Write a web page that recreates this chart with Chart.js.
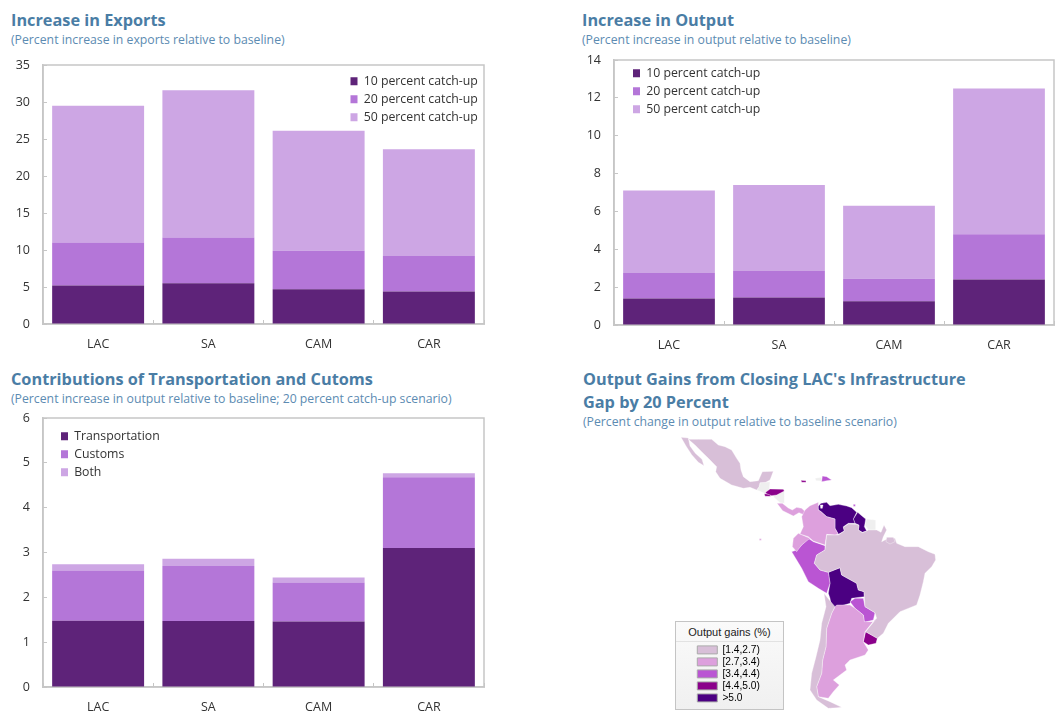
<!DOCTYPE html>
<html><head><meta charset="utf-8">
<script src="https://cdn.jsdelivr.net/npm/chart.js@4"></script>
<style>
html,body{margin:0;padding:0;background:#fff;width:1061px;height:713px;overflow:hidden}
.t{position:absolute;font-family:"Open Sans",sans-serif;white-space:nowrap}
.h{font-weight:700;font-size:16.3px;color:#4A7DA5;line-height:22px}
.s{font-size:12.25px;color:#5C8BB2;line-height:16px}
.c{position:absolute}
#c4{filter:blur(0.35px)}
#mapbox{position:absolute;left:675px;top:621px;width:107px;height:87px;border:1.5px solid #c4c4c4;background:linear-gradient(#fafafa,#f0f0f0);box-sizing:content-box}
#maptitle{position:absolute;left:0;right:0;top:3px;text-align:center;font:11px "Liberation Sans",sans-serif;color:#222;line-height:14px;padding-bottom:2px;border-bottom:1px solid #e2e2e2}
</style></head><body>
<div class="t h" style="left:11px;top:9px">Increase in Exports</div>
<div class="t s" style="left:11px;top:32px">(Percent increase in exports relative to baseline)</div>
<div class="t h" style="left:582px;top:9px">Increase in Output</div>
<div class="t s" style="left:582px;top:32px">(Percent increase in output relative to baseline)</div>
<div class="t h" style="left:11px;top:368px">Contributions of Transportation and Cutoms</div>
<div class="t s" style="left:11px;top:391px">(Percent increase in output relative to baseline; 20 percent catch-up scenario)</div>
<div class="t h" style="left:583px;top:368px">Output Gains from Closing LAC's Infrastructure</div>
<div class="t h" style="left:583px;top:391px">Gap by 20 Percent</div>
<div class="t s" style="left:583px;top:414px">(Percent change in output relative to baseline scenario)</div>
<div id="mapbox"><div id="maptitle">Output gains (%)</div></div>
<canvas class="c" id="c1"></canvas>
<canvas class="c" id="c2"></canvas>
<canvas class="c" id="c3"></canvas>
<canvas class="c" id="c4"></canvas>
<script>
// ---- bar chart data ----
const regions = ['LAC','SA','CAM','CAR'];
const exports10 = [5.2,5.5,4.7,4.4];
const exports20 = [5.8,6.2,5.2,4.8];
const exports50 = [18.5,19.9,16.2,14.4];
const output10 = [1.4,1.45,1.25,2.4];
const output20 = [1.35,1.4,1.2,2.4];
const output50 = [4.35,4.55,3.85,7.7];
const transport = [1.48,1.47,1.46,3.1];
const customs = [1.12,1.23,0.87,1.58];
const both = [0.14,0.16,0.11,0.09];
const catchupNames = ['10 percent catch-up','20 percent catch-up','50 percent catch-up'];
const contribNames = ['Transportation','Customs','Both'];
const barColors = ['#5E2379','#B476D8','#CDA6E4'];

// ---- map data: country outlines in map units ----
const mexico = [[85,28],[115,28],[155,28],[175,45],[195,50],[215,60],[230,85],[240,100],[243,120],[250,140],[270,155],[295,152],[307,125],[340,124],[330,150],[317,157],[300,158],[297,170],[290,180],[270,172],[250,175],[215,165],[180,145],[167,125],[170,110],[145,85],[125,65],[105,45]];
const baja = [[63,22],[85,24],[90,48],[106,70],[126,88],[132,107],[115,97],[95,74],[78,48]];
const guatemalaBelize = [[300,158],[330,155],[328,178],[315,190],[290,180],[297,170]];
const nicaragua = [[345,195],[373,183],[373,220],[360,218],[340,200]];
const honduras = [[317,187],[330,177],[370,178],[373,183],[350,195],[335,197],[317,190]];
const elSalvador = [[313,191],[330,193],[332,199],[315,199]];
const costaRicaPanama = [[351,220],[367,220],[385,234],[397,240],[410,232],[425,235],[437,246],[431,254],[417,248],[400,258],[388,252],[368,242]];
const dominican = [[487,138],[500,140],[515,150],[500,152],[485,155]];
const haiti = [[465,145],[485,142],[485,153],[468,152]];
const jamaica = [[423,151],[438,152],[438,157],[425,157]];
const trinidad = [[580,223],[586,223],[586,229],[580,229]];
const galapagos = [[298,326],[304,326],[304,331],[298,331]];
const venezuela = [[473,230],[483,220],[500,217],[510,227],[535,223],[560,228],[575,233],[590,247],[580,267],[585,280],[565,280],[550,290],[553,303],[535,313],[525,295],[525,267],[500,260],[483,245],[475,240]];
const maracaibo = [[481,225],[489,225],[487,235],[482,235]];
const guyana = [[593,247],[605,257],[617,267],[615,280],[613,290],[620,303],[607,307],[595,300],[597,285],[585,280],[580,267]];
const suriname = [[620,267],[647,270],[647,300],[625,300],[615,285]];
const brazil = [[500,315],[525,315],[535,315],[553,303],[550,292],[565,282],[590,283],[597,287],[595,300],[607,308],[620,303],[625,300],[650,300],[663,307],[672,285],[680,300],[670,320],[665,335],[685,325],[705,325],[710,340],[735,350],[775,350],[805,365],[825,373],[827,390],[815,410],[795,430],[790,455],[780,495],[770,525],[720,545],[685,580],[670,610],[652,625],[617,605],[650,565],[645,548],[615,530],[613,500],[612,485],[595,480],[590,460],[545,435],[540,413],[505,427],[480,420],[463,400],[470,375],[495,360]];
const marajo = [[680,322],[700,322],[705,335],[690,342],[678,335]];
const bolivia = [[505,427],[540,413],[545,435],[590,460],[595,480],[612,485],[613,500],[575,505],[570,520],[535,530],[515,533],[510,505],[505,490],[510,460]];
const peru = [[395,365],[410,360],[425,345],[445,325],[460,335],[495,347],[495,360],[470,375],[463,400],[480,420],[505,427],[510,460],[500,490],[475,475],[445,455],[425,415],[410,390]];
const ecuador = [[400,325],[415,310],[450,325],[425,345],[410,365],[397,350]];
const colombia = [[425,260],[435,240],[450,227],[475,217],[475,240],[483,245],[500,260],[525,267],[525,295],[535,313],[525,315],[500,313],[495,345],[460,333],[445,320],[420,312],[430,290]];
const chile = [[492,490],[508,510],[525,530],[515,550],[500,595],[498,650],[488,690],[485,730],[470,770],[475,800],[510,815],[545,832],[505,835],[470,810],[450,780],[455,730],[468,680],[480,630],[485,580],[498,530]];
const argentina = [[525,530],[530,525],[560,525],[570,525],[585,535],[610,555],[613,575],[645,575],[650,565],[635,580],[615,605],[610,635],[625,660],[615,675],[570,690],[555,705],[560,720],[520,750],[538,765],[520,785],[505,805],[475,800],[470,770],[485,730],[488,690],[498,650],[500,595],[515,550]];
const fuego = [[505,820],[530,828],[540,832],[510,835]];
const paraguay = [[570,515],[585,505],[610,505],[615,530],[645,548],[640,570],[613,577],[610,555],[585,535]];
const uruguay = [[617,605],[652,625],[648,640],[625,645],[610,635]];
const classNames = ['[1.4,2.7)','[2.7,3.4)','[3.4,4.4)','[4.4,5.0)','>5.0'];
const classColors = ['#D8BFD8','#DDA0DD','#BA55D3','#8B008B','#4B0082'];
const noData = '#EFEFEF';
const countries = [
 [maracaibo,'#FFFFFF'],[marajo,0],
 [mexico,0],[baja,0],[brazil,0],[chile,0],
 [colombia,1],[ecuador,1],[argentina,1],[fuego,1],[costaRicaPanama,1],[galapagos,1],
 [peru,2],[paraguay,2],[dominican,2],[trinidad,2],
 [honduras,3],[elSalvador,3],[jamaica,3],[uruguay,3],
 [venezuela,4],[guyana,4],[bolivia,4],
 [guatemalaBelize,noData],[nicaragua,noData],[suriname,noData],[haiti,noData]
];

const FONT = '"Open Sans",sans-serif';
const GREY = '#C6C6C6';

const placeLegend = {
  id:'placeLegend',
  afterLayout(chart){
    const p = chart.options.plugins.placeLegend, l = chart.legend;
    if(!p || !l) return;
    const w = l.width, h = l.height;
    l.left = p.x; l.top = p.y; l.right = p.x + w; l.bottom = p.y + h;
  }
};
const plotFrame = {
  id:'plotFrame',
  beforeDatasetsDraw(chart){
    if(!chart.options.plugins.plotFrame.on) return;
    const a = chart.chartArea, c = chart.ctx;
    c.save(); c.strokeStyle = GREY; c.lineWidth = 1.5;
    c.strokeRect(a.left,a.top,a.right-a.left,a.bottom-a.top);
    c.restore();
  }
};
function noPad(s){s.paddingTop=0;s.paddingBottom=0;s.paddingLeft=0;s.paddingRight=0;}

function barChart(id,L,R,T,B,names,series,yMax,step,lx,ly){
  const cv = document.getElementById(id);
  const padL=40,padT=12,padR=8,padB=32;
  const box = {x:L-padL,y:T-padT,w:R-L+padL+padR,h:B-T+padT+padB};
  cv.style.left = box.x+'px'; cv.style.top = box.y+'px';
  cv.width = box.w; cv.height = box.h;
  cv.style.width = box.w+'px'; cv.style.height = box.h+'px';
  new Chart(cv,{
    type:'bar',
    data:{labels:regions,datasets:series.map((d,i)=>({label:names[i],data:d,backgroundColor:barColors[i],borderWidth:0,
      categoryPercentage:1,barPercentage:0.834}))},
    options:{
      responsive:false,animation:false,
      layout:{padding:{top:padT,right:padR,left:0,bottom:0}},
      scales:{
        x:{stacked:true,offset:true,
           grid:{offset:true,drawOnChartArea:false,drawTicks:true,tickLength:-4,color:GREY,lineWidth:1},
           border:{color:GREY,width:1.5},
           ticks:{padding:17,color:'#333',font:{family:FONT,size:12.5},maxRotation:0},
           afterFit(s){s.height=padB;noPad(s);}},
        y:{stacked:true,min:0,max:yMax,
           grid:{drawOnChartArea:false,drawTicks:true,tickLength:-4,color:GREY,lineWidth:1},
           border:{color:GREY,width:1.5},
           ticks:{stepSize:step,padding:17,color:'#333',font:{family:FONT,size:12.5}},
           afterFit(s){s.width=padL;noPad(s);}}
      },
      plugins:{
        tooltip:{enabled:false},
        plotFrame:{on:true},
        placeLegend:{x:lx-box.x-5.7,y:ly-box.y-11.6},
        legend:{position:'chartArea',align:'start',
          labels:{boxWidth:7,boxHeight:8,padding:5.7,color:'#333',font:{family:FONT,size:12.3}}}
      }
    },
    plugins:[placeLegend,plotFrame]
  });
}
barChart('c1',43,484,65,324,catchupNames,[exports10,exports20,exports50],35,5,350.5,81);
barChart('c2',614,1054,60,325,catchupNames,[output10,output20,output50],14,2,633,73);
barChart('c3',43,484,418,687,contribNames,[transport,customs,both],6,1,61,436);

(function(){
  const cv = document.getElementById('c4');
  cv.style.left='660px'; cv.style.top='430px';
  cv.width=300; cv.height=283; cv.style.width='300px'; cv.style.height='283px';
  new Chart(cv,{
    type:'scatter',
    data:{datasets:countries.map(([poly,k])=>({
      data:poly.concat([poly[0]]).map(p=>({x:p[0],y:p[1]})),
      showLine:true,tension:0,pointRadius:0,clip:false,
      borderDash:[1000,0],
      borderColor:'rgba(255,255,255,0.7)',borderWidth:0.5,
      fill:'shape',
      backgroundColor:typeof k==='number'?classColors[k]:k
    }))},
    options:{
      responsive:false,animation:false,
      layout:{padding:0},
      scales:{x:{display:false,min:0,max:900},y:{display:false,min:0,max:849,reverse:true}},
      plugins:{
        tooltip:{enabled:false},
        plotFrame:{on:false},
        placeLegend:{x:35.5,y:213},
        legend:{position:'chartArea',align:'start',
          labels:{boxWidth:20,boxHeight:8,padding:1.8,color:'#222',font:{family:'"Liberation Sans",sans-serif',size:10.2},
            generateLabels(){return classNames.map((n,i)=>({text:n,fillStyle:classColors[i],strokeStyle:'#AAAAAA',lineWidth:1,hidden:false,datasetIndex:0}));}}}
      }
    },
    plugins:[placeLegend,plotFrame]
  });
})();
</script>
</body></html>
